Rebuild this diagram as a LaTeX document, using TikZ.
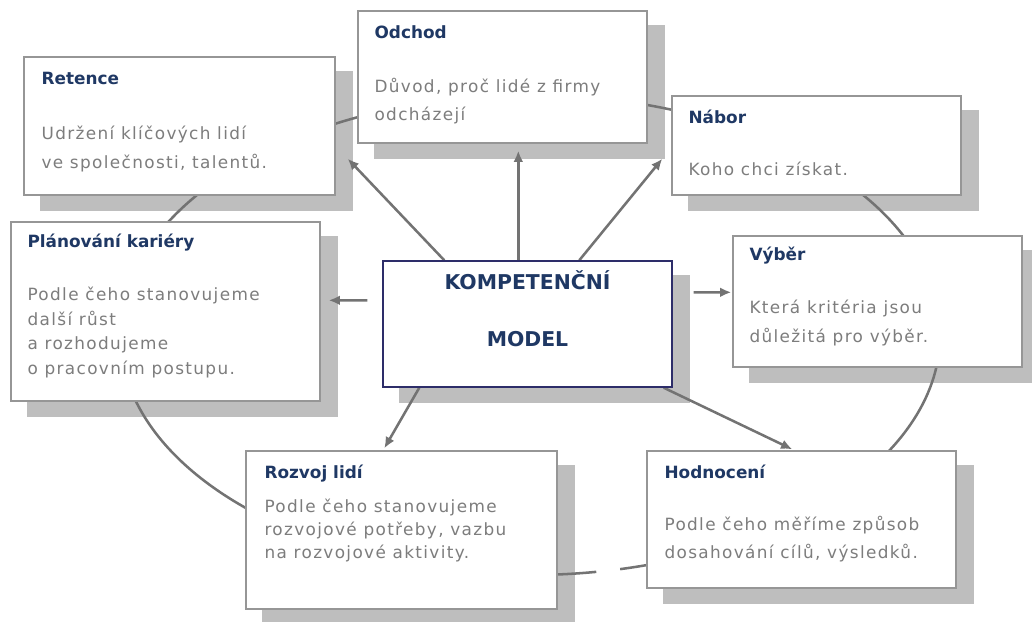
\documentclass[tikz,border=0pt]{standalone}
\usepackage{fontspec}
\setmainfont{DejaVu Sans}
\newfontfamily\bodyfont[LetterSpace=8]{DejaVu Sans}
\usetikzlibrary{positioning,fit,arrows.meta}
\definecolor{headblue}{RGB}{31,56,100}
\definecolor{bodygray}{RGB}{125,125,125}
\definecolor{framegray}{RGB}{150,150,150}
\definecolor{shadowgray}{RGB}{190,190,190}
\definecolor{linegray}{RGB}{115,115,115}
\definecolor{cmframe}{RGB}{45,45,105}
\pgfdeclarelayer{shadow}
\pgfdeclarelayer{lines}
\pgfsetlayers{shadow,lines,main}
\begin{document}
\begin{tikzpicture}[x=0.025cm, y=-0.025cm,
    box/.style={draw=framegray, line width=1pt, fill=white, inner sep=0pt},
    head/.style={anchor=base west, inner sep=0pt, text=headblue, font=\fontsize{12}{14}\selectfont\bfseries},
    body/.style={anchor=base west, inner sep=0pt, align=left, text=bodygray, font=\bodyfont\fontsize{12}{#1}\selectfont},
    cmtext/.style={anchor=base, inner sep=0pt, text=headblue, font=\fontsize{14.5}{17}\selectfont\bfseries},
    arr/.style={draw=linegray, line width=1.8pt, -{Latex[length=8pt,width=7pt]}},
    ring/.style={draw=linegray, line width=1.8pt}]
    \useasboundingbox (0,0) rectangle (1032,621);

    % boxes
    \node[box, fit={(24,57) (335,195)}]   (ret)  {};
    \node[box, fit={(358,11) (647,143)}]  (odch) {};
    \node[box, fit={(672,96) (961,195)}]  (nab)  {};
    \node[box, fit={(733,236) (1022,367)}] (vyb) {};
    \node[box, fit={(11,222) (320,401)}]  (plan) {};
    \node[box, draw=cmframe, fit={(383,261) (672,387)}] (cm) {};
    \node[box, fit={(246,451) (557,609)}] (roz)  {};
    \node[box, fit={(647,451) (956,588)}] (hod)  {};

    % texts (body nodes sit on the baseline of their last line)
    \node[head] (ret-h) at ([shift={(18,28)}]ret.north west) {Retence};
    \node[body=20.5pt] (ret-b) at ([shift={(18,112)}]ret.north west)
        {Udržení klíčových lidí\\ve společnosti, talentů.};
    \node[head] (odch-h) at ([shift={(17,28)}]odch.north west) {Odchod};
    \node[body=19.8pt] (odch-b) at ([shift={(17,110)}]odch.north west)
        {Důvod, proč lidé z firmy\\odcházejí};
    \node[head] (nab-h) at ([shift={(17,28)}]nab.north west) {Nábor};
    \node[body=20pt] (nab-b) at ([shift={(17,80)}]nab.north west) {Koho chci získat.};
    \node[head] (vyb-h) at ([shift={(17,25)}]vyb.north west) {Výběr};
    \node[body=20.5pt] (vyb-b) at ([shift={(17,107)}]vyb.north west)
        {Která kritéria jsou\\důležitá pro výběr.};
    \node[head] (plan-h) at ([shift={(17,26)}]plan.north west) {Plánování  kariéry};
    \node[body=17.5pt] (plan-b) at ([shift={(17,153)}]plan.north west)
        {Podle čeho stanovujeme\\další růst\\a rozhodujeme\\o pracovním postupu.};
    \node[head] (roz-h) at ([shift={(19,28)}]roz.north west) {Rozvoj lidí};
    \node[body=16.3pt] (roz-b) at ([shift={(19,108)}]roz.north west)
        {Podle čeho stanovujeme\\rozvojové potřeby, vazbu\\na rozvojové aktivity.};
    \node[head] (hod-h) at ([shift={(18,28)}]hod.north west) {Hodnocení};
    \node[body=19.8pt] (hod-b) at ([shift={(18,108)}]hod.north west)
        {Podle čeho měříme způsob\\dosahování cílů, výsledků.};
    \node[cmtext] (cm-t1) at ([shift={(0,29)}]cm.north) {KOMPETENČNÍ};
    \node[cmtext] (cm-t2) at ([shift={(0,86)}]cm.north) {MODEL};

    \begin{pgfonlayer}{shadow}
        \foreach \bx in {ret,odch,nab,vyb,plan,cm,roz,hod}
            \fill[shadowgray] ([shift={(17,15)}]\bx.north west) rectangle ([shift={(17,15)}]\bx.south east);
    \end{pgfonlayer}

    \begin{pgfonlayer}{lines}
        % ring behind the boxes
        \coordinate (ringc) at (530,335);
        \draw[ring] (ringc) ++(80.7:410 and 240) arc[start angle=80.7, end angle=437.3, x radius=410, y radius=240];
        % arrows from the model
        \draw[arr] ([shift={(62,0)}]cm.north west) -- ([shift={(12,-37)}]ret.south east);
        \draw[arr] ([shift={(136,0)}]cm.north west) -- ([shift={(161,7)}]odch.south west);
        \draw[arr] ([shift={(197,0)}]cm.north west) -- ([shift={(-9,-37)}]nab.south west);
        \draw[arr] ([shift={(-15,40)}]cm.north west) -- ([shift={(8,79)}]plan.north east);
        \draw[arr] ([shift={(21,32)}]cm.north east) -- ([shift={(-1,57)}]vyb.north west);
        \draw[arr] ([shift={(37,0)}]cm.south west) -- ([shift={(139,-2)}]roz.north west);
        \draw[arr] ([shift={(-9,0)}]cm.south east) -- ([shift={(146,-1)}]hod.north west);
    \end{pgfonlayer}
\end{tikzpicture}
\end{document}
